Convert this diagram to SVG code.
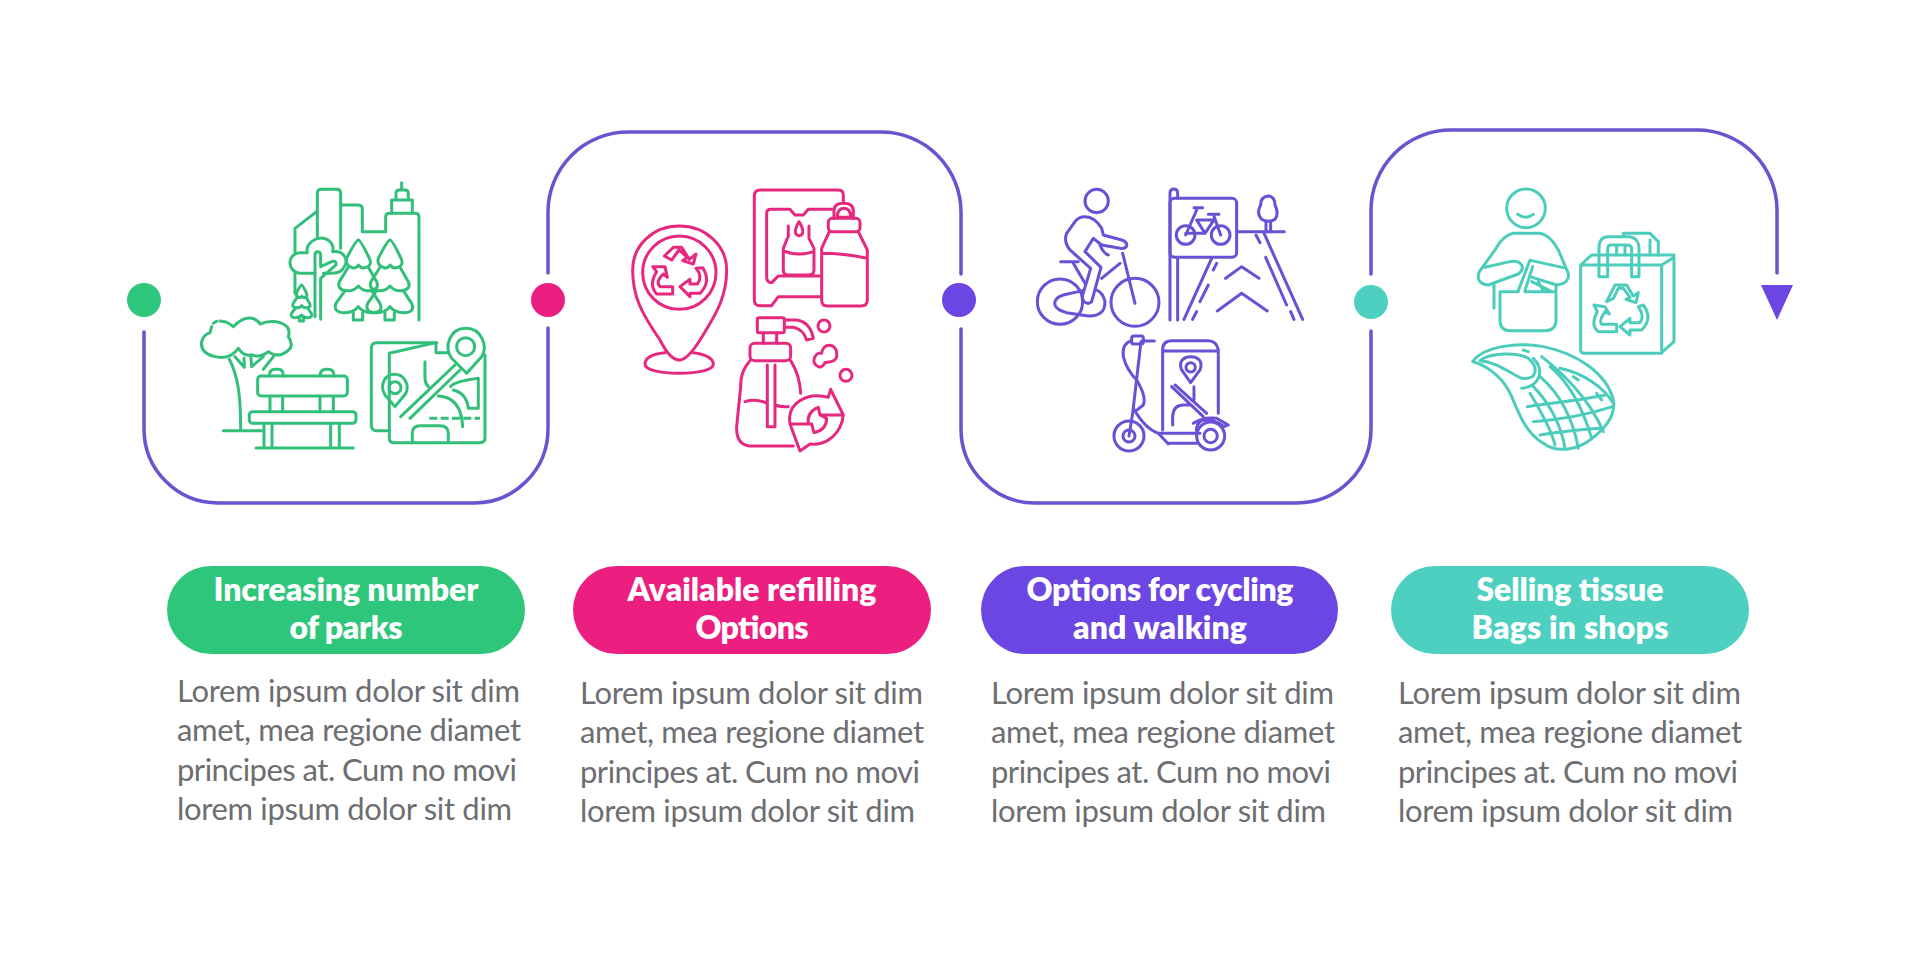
<svg xmlns="http://www.w3.org/2000/svg" width="1920" height="960" viewBox="0 0 1920 960">
<style>
.ic{fill:none;stroke-width:9;stroke-linecap:round;stroke-linejoin:round}
.g{stroke:#31bf7a}.p{stroke:#e6287f}.v{stroke:#6a50d5}.t{stroke:#4ccdbc}
.conn{fill:none;stroke:#6a52d0;stroke-width:3.5;stroke-linecap:round}
.ti{font:800 32px Lato,"Open Sans",sans-serif;fill:#fff;text-anchor:middle}
.bd{font:400 31px Lato,"Open Sans",sans-serif;fill:#6d6e71}
</style>
<defs>
<g id="fir">
<path d="M535 240 Q528 240 500 295 Q495 315 515 322 Q527 328 535 315 Q545 328 558 322 Q578 315 568 295 Q542 240 535 240Z"/>
<path d="M505 322 L478 365 Q470 390 500 392 Q520 395 535 378 Q550 395 570 392 Q600 388 590 365 L565 322"/>
<path d="M495 392 L468 430 Q458 455 490 458 Q520 460 535 440 Q550 460 580 458 Q612 455 600 430 L575 392"/>
<path d="M520 458 V480 H548 V458"/>
</g>
</defs>
<rect width="1920" height="960" fill="#fff"/>
<g id="connectors">
<path class="conn" d="M144 332 V429 A74 74 0 0 0 218 503 H474 A74 74 0 0 0 548 429 V328"/>
<path class="conn" d="M548 273 V212 A80 80 0 0 1 628 132 H881 A80 80 0 0 1 961 212 V274"/>
<path class="conn" d="M961 329 V429 A74 74 0 0 0 1035 503 H1297 A74 74 0 0 0 1371 429 V331"/>
<path class="conn" d="M1371 274 V210 A80 80 0 0 1 1451 130 H1697 A80 80 0 0 1 1777 210 V273"/>
<polygon points="1761,285 1793,285 1777,320" fill="#6b46e2"/>
</g>
<g id="step-1">
<circle cx="144" cy="300" r="17" fill="#2ec67a"/>
<g class="ic g" transform="translate(180 160) scale(.3333)">
<path d="M412 230 V100 Q412 88 424 88 H470 Q482 88 482 100 V265"/>
<path d="M482 135 H535 Q547 135 547 147 V215 H617 V172 Q617 160 629 160 H705 Q717 160 717 172 V480"/>
<path d="M410 155 L345 205 V275 M345 340 V400"/>
<path d="M665 68 V90 M648 120 V100 Q648 90 658 90 H675 Q685 90 685 100 V120 M635 160 V120 H697 V160"/>
<path d="M405 340 H360 C320 335 320 280 360 278 H382 C375 250 410 230 430 235 C455 240 462 260 458 275 C490 270 510 300 490 325 C480 340 465 340 430 340"/>
<path d="M405 470 V285 Q405 275 413 275 Q422 275 422 285 V320 L455 305 Q470 300 468 315 L422 355 V478"/>
<use href="#fir"/><use href="#fir" x="95"/>
<use href="#fir" transform="translate(124 267) scale(.45)" style="stroke-width:20"/>
<path d="M100 490 L110 484 M120 483 L135 485 Q150 490 160 500 Q190 470 215 475 Q235 480 240 492 Q270 480 300 488 Q335 500 325 530 Q345 560 320 575 Q290 595 265 575 Q240 595 215 585 Q190 590 175 565 Q150 600 105 590 Q60 580 65 545 Q70 525 90 518 L95 500"/>
<path d="M148 598 C175 650 182 710 182 808 M165 590 L193 622 L192 595 M215 620 L212 585 M215 620 L250 590 M250 628 L280 590 M130 812 H245"/>
<rect x="233" y="648" width="269" height="60" rx="10"/>
<path d="M268 648 Q268 628 285 628 H295 Q310 628 310 648 M420 648 Q420 628 440 628 H445 Q462 628 462 648 M270 708 V755 M308 708 V755 M420 708 V755 M460 708 V755"/>
<rect x="208" y="755" width="320" height="35" rx="10"/>
<path d="M252 790 V862 M276 790 V862 M452 790 V862 M478 790 V862 M228 864 H520"/>
<path d="M770 548 H590 Q574 548 574 565 V795 Q574 812 590 812 H628"/>
<path d="M628 580 V835 Q628 848 640 848 H900 Q915 848 915 835 V585 M628 580 L768 548 V578 H805"/>
<path d="M860 640 L815 595 C790 560 810 505 858 505 C905 505 925 560 905 590Z"/><circle cx="857" cy="560" r="27"/>
<path d="M662 770 L825 615 M690 775 L840 630 M735 605 V655 Q735 670 745 680"/>
<path d="M645 740 L615 705 C595 670 620 643 643 643 C670 643 690 670 678 700Z"/><circle cx="645" cy="683" r="18"/>
<path d="M812 680 Q820 665 895 655 V745 H865 Q860 700 820 690 M775 708 C810 710 845 730 848 800"/>
<path d="M748 775 H900" stroke-dasharray="24 10" stroke-linecap="butt"/>
<path d="M697 848 V820 Q697 797 720 797 H780 Q805 797 805 820 V848"/>
</g>
<rect x="167" y="566" width="358" height="88" rx="44" fill="#2ec67a"/>
<text class="ti"><tspan x="346" y="601" textLength="265">Increasing number</tspan><tspan x="346" y="639" textLength="113">of parks</tspan></text>
<text class="bd"><tspan x="177" y="702" textLength="343">Lorem ipsum dolor sit dim</tspan><tspan x="177" y="741" textLength="344">amet, mea regione diamet</tspan><tspan x="177" y="781" textLength="340">principes at. Cum no movi</tspan><tspan x="177" y="820" textLength="335">lorem ipsum dolor sit dim</tspan></text>
</g>
<g id="step-2">
<circle cx="548" cy="300" r="17" fill="#ec1e80"/>
<g class="ic p" transform="translate(610 170) scale(.3333)">
<path d="M700 95 V75 Q700 60 685 60 H450 Q433 60 433 78 V390 Q433 407 450 407 H485 L505 380 H630"/>
<path d="M470 320 V130 Q470 118 482 118 H540 L555 135 H580 L595 118 H665 M470 320 Q470 338 485 338 L505 318 H630"/>
<path d="M535 168 V200 M597 168 V200 M567 155 C555 175 550 195 567 197 C585 195 580 175 567 155Z"/>
<path d="M532 205 L520 235 V300 Q520 315 535 315 H595 Q612 315 612 300 V235 L597 205 M520 243 Q565 260 612 245"/>
<path d="M658 185 L635 235 V390 Q635 408 652 408 H752 Q772 408 772 390 V240 L745 185 M635 250 Q700 250 772 265"/>
<rect x="655" y="145" width="95" height="40" rx="12"/>
<path d="M672 145 V122 Q672 100 700 100 Q730 100 730 122 V145 M682 142 Q682 115 702 115 Q722 115 722 142Z"/>
<path d="M208 570 C190 570 170 550 150 510 C95 430 68 380 68 300 C68 225 130 168 208 168 C285 168 350 225 350 300 C350 380 320 430 270 510 C245 550 225 570 208 570Z"/>
<circle cx="208" cy="308" r="110"/>
<path d="M165 548 C125 552 105 565 105 582 C105 600 150 610 208 610 C265 610 310 600 310 582 C310 565 285 552 250 548"/>
<path d="M163 258 L190 232 H215 L238 268 L258 252 L250 282 L218 272 L232 262 L207 240 L185 270Z"/>
<path d="M165 290 L128 290 L140 305 Q115 345 140 372 H188 V350 H150 Q135 335 160 312 L172 322Z"/>
<path d="M210 350 L240 328 V342 H262 Q280 320 258 295 L278 293 Q305 335 270 370 H240 V380Z"/>
<rect x="442" y="443" width="81" height="45" rx="5"/>
<path d="M523 450 H560 Q600 455 610 505 L590 510 Q580 478 550 472 H523 M460 488 V520 M500 488 V520"/>
<rect x="420" y="520" width="122" height="52" rx="14"/>
<path d="M420 572 C405 590 392 610 392 650 L380 770 Q378 825 420 828 H550 M542 572 C560 600 570 630 572 670 M472 585 V770 H495 V585 M405 695 Q440 685 472 700 M495 705 Q515 712 535 710"/>
<path d="M540 762 C530 700 590 665 655 682 L662 658 L700 735 H630 M700 735 C695 790 650 828 600 822 L570 843 L540 762 H605 L612 788 Q650 780 650 745 L630 735 L625 712 Q590 725 595 762"/>
<circle cx="642" cy="468" r="18"/><circle cx="708" cy="616" r="18"/>
<path d="M625 590 C600 580 615 545 635 550 C640 515 680 520 680 550 C685 580 650 575 645 578 Q635 595 625 590Z"/>
</g>
<rect x="573" y="566" width="358" height="88" rx="44" fill="#ec1e80"/>
<text class="ti"><tspan x="752" y="601" textLength="249">Available refilling</tspan><tspan x="752" y="639" textLength="113">Options</tspan></text>
<text class="bd"><tspan x="580" y="704" textLength="343">Lorem ipsum dolor sit dim</tspan><tspan x="580" y="743" textLength="344">amet, mea regione diamet</tspan><tspan x="580" y="783" textLength="340">principes at. Cum no movi</tspan><tspan x="580" y="822" textLength="335">lorem ipsum dolor sit dim</tspan></text>
</g>
<g id="step-3">
<circle cx="959" cy="300" r="17" fill="#6b46e2"/>
<g class="ic v" transform="translate(1020 170) scale(.3333)">
<circle cx="230" cy="93" r="35"/>
<path d="M195 140 Q225 140 245 175 L250 195 L305 210 Q322 215 320 228 Q315 237 300 235 L245 225 L220 205 L195 245 L243 292 L215 395 Q205 405 192 395 Q185 385 188 375 L212 295 L150 240 Q130 215 140 190 L165 155 Q175 140 195 140Z"/>
<circle cx="120" cy="395" r="68"/><circle cx="345" cy="397" r="72"/>
<path d="M345 400 L308 250 M300 280 L245 325 M188 362 L130 375 Q100 385 105 405 Q110 420 140 428 L205 438 Q255 440 255 395 Q250 370 230 360 M122 275 H175 M160 280 L195 340 M240 225 Q250 250 265 255"/>
<path d="M450 450 V70 Q450 57 462 57 Q473 57 473 70 V85 M473 262 V450"/>
<rect x="450" y="85" width="200" height="177" rx="14"/>
<circle cx="497" cy="195" r="28"/><circle cx="602" cy="195" r="28"/>
<path d="M497 195 L530 120 M522 113 H548 M530 150 H585 M565 133 H597 M580 133 L602 195 M530 150 L555 190 H497 M555 190 L585 145"/>
<path d="M575 265 L492 448 M590 280 L580 300 M565 345 L540 395 M530 425 L518 448 M617 325 L665 290 L717 325 M592 423 L665 370 L742 423 M730 185 L848 448 M708 195 L720 218 M737 262 L800 405 M812 425 L822 448 M652 185 H793"/>
<path d="M745 78 Q765 80 765 105 Q778 130 765 148 Q745 160 725 148 Q708 130 722 105 Q722 80 745 78Z M738 155 V185 M752 155 V185"/>
<circle cx="327" cy="798" r="45"/><circle cx="327" cy="798" r="18"/><circle cx="572" cy="798" r="42"/><circle cx="572" cy="798" r="20"/>
<path d="M363 515 L338 730 L327 798 M365 513 H403"/><rect x="335" y="498" width="35" height="24" rx="6"/>
<path d="M335 512 Q305 520 310 560 Q320 600 350 630 Q380 680 370 705 L345 725 M340 715 C360 750 385 780 415 790 H540 M445 820 H530 M415 790 L445 822"/>
<path d="M428 780 V540 Q428 512 455 512 H565 Q590 512 595 540 V730 M428 543 H592"/>
<path d="M512 638 L485 600 C475 575 490 560 512 560 C535 560 550 575 540 600Z"/><circle cx="512" cy="592" r="14"/>
<path d="M455 650 L550 740 M465 645 L560 730 M522 650 V695 M458 765 V740 Q460 705 490 705 H510 M520 760 Q550 740 590 745 L625 765 L612 770 Q590 750 550 750 Q525 760 530 790"/>
</g>
<rect x="981" y="566" width="357" height="88" rx="44" fill="#6b46e2"/>
<text class="ti"><tspan x="1160" y="601" textLength="267">Options for cycling</tspan><tspan x="1160" y="639" textLength="174">and walking</tspan></text>
<text class="bd"><tspan x="991" y="704" textLength="343">Lorem ipsum dolor sit dim</tspan><tspan x="991" y="743" textLength="344">amet, mea regione diamet</tspan><tspan x="991" y="783" textLength="340">principes at. Cum no movi</tspan><tspan x="991" y="822" textLength="335">lorem ipsum dolor sit dim</tspan></text>
</g>
<g id="step-4">
<circle cx="1371" cy="302" r="17" fill="#4dd0bf"/>
<g class="ic t" transform="translate(1450 170) scale(.3333)">
<circle cx="228" cy="115" r="58"/>
<path d="M203 133 Q228 150 250 133"/>
<path d="M190 190 H270 Q300 195 325 240 L355 310 Q360 340 320 345 L240 320 M245 272 L340 293 M190 190 Q160 195 135 240 L88 305 Q75 340 115 345 L205 312 Q222 300 215 285 Q205 270 180 275 L105 292"/>
<path d="M150 365 V450 Q150 482 180 482 H285 Q318 482 318 450 V345 M150 365 H205 M225 365 H318 M205 362 L240 270 M225 362 L248 290 M132 345 V415 M245 335 L300 362 M265 335 L280 362"/>
<path d="M392 285 V540 Q392 550 402 550 H635 V285Z M635 548 L672 515 V262 L635 285 M392 285 L425 255 H672"/>
<path d="M447 320 V235 Q447 200 475 200 H540 Q567 205 567 235 V320 H545 V235 Q545 225 530 225 H485 Q473 225 473 235 V320 H447 M520 200 V190 H600 L625 215 V255 M600 210 V255 M500 225 V255 M525 225 V255"/>
<path d="M470 395 L495 345 H530 L550 378 L565 368 L558 398 L528 388 L540 382 L520 355 H505 L490 385Z"/>
<path d="M465 410 L432 405 L442 425 Q420 465 445 485 H500 V463 H455 Q445 455 465 425 L478 432Z"/>
<path d="M510 470 L540 445 V458 H570 Q585 440 565 410 L580 405 Q610 445 575 480 H540 V495Z"/>
<path d="M68 575 C100 530 200 515 280 530 C380 550 470 610 490 690 C500 740 460 780 420 810 C380 840 320 850 280 820 C230 790 210 740 185 680 C165 630 120 590 68 575Z"/>
<path d="M90 572 C120 548 200 545 235 565 C265 590 265 630 215 625 C180 610 140 575 90 572Z M250 565 C285 600 270 650 215 655 M220 540 L235 545"/>
<path d="M275 560 C340 610 420 690 460 785 M300 590 C360 640 400 720 425 805 M270 620 C330 670 370 750 385 835 M250 650 C300 700 335 770 345 835 M240 670 C270 720 305 780 315 825 M330 595 C400 610 460 650 490 700 M232 710 C300 700 400 690 465 675 M250 755 C320 750 410 735 488 710 M270 795 C340 785 420 775 455 775 M370 620 L385 630 M440 670 L455 690"/>
</g>
<rect x="1391" y="566" width="358" height="88" rx="44" fill="#4dd0bf"/>
<text class="ti"><tspan x="1570" y="601" textLength="187">Selling tissue</tspan><tspan x="1570" y="639" textLength="197">Bags in shops</tspan></text>
<text class="bd"><tspan x="1398" y="704" textLength="343">Lorem ipsum dolor sit dim</tspan><tspan x="1398" y="743" textLength="344">amet, mea regione diamet</tspan><tspan x="1398" y="783" textLength="340">principes at. Cum no movi</tspan><tspan x="1398" y="822" textLength="335">lorem ipsum dolor sit dim</tspan></text>
</g>
</svg>
